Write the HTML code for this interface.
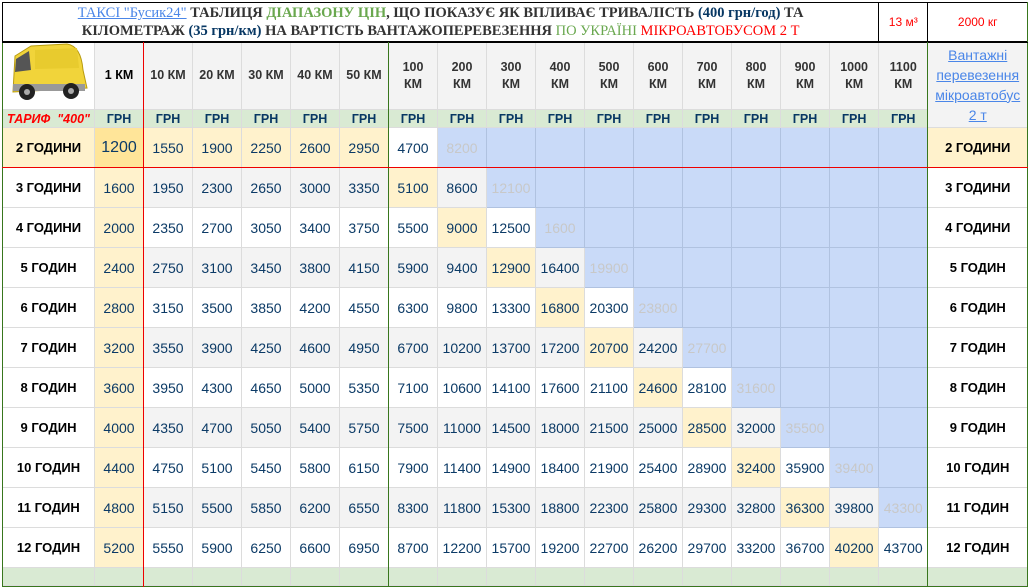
<!DOCTYPE html>
<html><head><meta charset="utf-8"><style>
body{margin:0;width:1029px;height:588px;background:#fff;overflow:hidden;font-family:"Liberation Sans",Tahoma,sans-serif;position:relative}
table{position:absolute;left:2px;top:2px;border-collapse:collapse;table-layout:fixed;width:1025px}
td{border:1px solid #dcdcdc;padding:0;text-align:center;font-size:14px;color:#0b3a66;overflow:hidden;white-space:nowrap}
tr.r td{height:39px}
.h td{background:#f3f3f3;color:#333;font-weight:bold;font-size:12.5px;height:64px;line-height:17px}
.g td{background:#d9ead3;color:#073763;font-weight:bold;font-size:12.5px;height:17px}
.f td{background:#d9ead3;height:17px}
.lb{font-weight:bold;color:#000!important;font-size:13px}
.y{background:#fff2cc}
.yy{background:#ffe599;font-size:16px}
.b{background:#c9daf8;border-color:#b0c2e0}
.fd{color:#c8c8c8}
.gr td{background:#f3f3f3}
.gr td.y{background:#fff2cc}.gr td.b{background:#c9daf8}
.w{background:#fff!important}
.t td{border:1px solid #000;height:38px;color:#333;font-weight:bold;font-family:"Liberation Serif",serif;font-size:14.5px;line-height:18px}
a{color:#4a86e8;font-weight:normal}
.vl{position:absolute;width:1px}
</style></head><body>
<table>
<colgroup><col style="width:92px"><col style="width:49px"><col style="width:49px"><col style="width:49px"><col style="width:49px"><col style="width:49px"><col style="width:49px"><col style="width:49px"><col style="width:49px"><col style="width:49px"><col style="width:49px"><col style="width:49px"><col style="width:49px"><col style="width:49px"><col style="width:49px"><col style="width:49px"><col style="width:49px"><col style="width:49px"><col style="width:100px"></colgroup>
<tr class="t"><td colspan="17"><a style="text-decoration:underline;font-weight:normal">ТАКСІ "Бусик24"</a> ТАБЛИЦЯ <span style="color:#6aa84f">ДІАПАЗОНУ ЦІН</span>, ЩО ПОКАЗУЄ ЯК ВПЛИВАЄ ТРИВАЛІСТЬ <span style="color:#073763">(400 грн/год)</span> ТА<br>КІЛОМЕТРАЖ <span style="color:#073763">(35 грн/км)</span> НА ВАРТІСТЬ ВАНТАЖОПЕРЕВЕЗЕННЯ <span style="color:#6aa84f;font-weight:normal">ПО УКРАЇНІ</span> <span style="color:#f00;font-weight:normal">МІКРОАВТОБУСОМ 2 Т</span></td><td style="color:#f00;font-weight:normal;font-family:'Liberation Sans',sans-serif;font-size:12px">13 м³</td><td style="color:#f00;font-weight:normal;font-family:'Liberation Sans',sans-serif;font-size:12px;border-right-color:#38761d">2000 кг</td></tr>
<tr class="h"><td class="w"><svg width="84" height="62" viewBox="0 0 84 62"><path d="M8 14 L24 4 L60 2 Q74 4 76 28 L80 46 L6 50 Z" fill="#f1d43a" stroke="#b89c10" stroke-width="1"/><path d="M9 17 L22 9 L24 28 L8 30 Z" fill="#555"/><path d="M28 8 L70 6 L72 26 L28 27 Z" fill="#e8cb2e"/><rect x="6" y="42" width="72" height="7" fill="#999"/><circle cx="20" cy="50" r="8" fill="#222"/><circle cx="64" cy="49" r="8" fill="#222"/><circle cx="20" cy="50" r="3" fill="#aaa"/><circle cx="64" cy="49" r="3" fill="#aaa"/></svg></td><td class="y" style="color:#000">1 КМ</td><td>10 КМ</td><td>20 КМ</td><td>30 КМ</td><td>40 КМ</td><td>50 КМ</td><td>100<br>КМ</td><td>200<br>КМ</td><td>300<br>КМ</td><td>400<br>КМ</td><td>500<br>КМ</td><td>600<br>КМ</td><td>700<br>КМ</td><td>800<br>КМ</td><td>900<br>КМ</td><td>1000<br>КМ</td><td>1100<br>КМ</td><td rowspan="2" style="line-height:20px;font-size:14px"><a style="text-decoration:underline">Вантажні<br>перевезення<br>мікроавтобус<br>2 т</a></td></tr>
<tr class="g"><td style="color:#f00;font-style:italic">ТАРИФ &nbsp;"400"</td><td>ГРН</td><td>ГРН</td><td>ГРН</td><td>ГРН</td><td>ГРН</td><td>ГРН</td><td>ГРН</td><td>ГРН</td><td>ГРН</td><td>ГРН</td><td>ГРН</td><td>ГРН</td><td>ГРН</td><td>ГРН</td><td>ГРН</td><td>ГРН</td><td>ГРН</td></tr>
<tr class="r"><td class="lb y">2 ГОДИНИ</td><td class="yy">1200</td><td class="y">1550</td><td class="y">1900</td><td class="y">2250</td><td class="y">2600</td><td class="y">2950</td><td>4700</td><td class="b fd">8200</td><td class="b"></td><td class="b"></td><td class="b"></td><td class="b"></td><td class="b"></td><td class="b"></td><td class="b"></td><td class="b"></td><td class="b"></td><td class="lb y">2 ГОДИНИ</td></tr>
<tr class="r gr"><td class="lb w">3 ГОДИНИ</td><td class="y">1600</td><td>1950</td><td>2300</td><td>2650</td><td>3000</td><td>3350</td><td class="y">5100</td><td>8600</td><td class="b fd">12100</td><td class="b"></td><td class="b"></td><td class="b"></td><td class="b"></td><td class="b"></td><td class="b"></td><td class="b"></td><td class="b"></td><td class="lb w">3 ГОДИНИ</td></tr>
<tr class="r"><td class="lb">4 ГОДИНИ</td><td class="y">2000</td><td>2350</td><td>2700</td><td>3050</td><td>3400</td><td>3750</td><td>5500</td><td class="y">9000</td><td>12500</td><td class="b fd">1600</td><td class="b"></td><td class="b"></td><td class="b"></td><td class="b"></td><td class="b"></td><td class="b"></td><td class="b"></td><td class="lb">4 ГОДИНИ</td></tr>
<tr class="r gr"><td class="lb w">5 ГОДИН</td><td class="y">2400</td><td>2750</td><td>3100</td><td>3450</td><td>3800</td><td>4150</td><td>5900</td><td>9400</td><td class="y">12900</td><td>16400</td><td class="b fd">19900</td><td class="b"></td><td class="b"></td><td class="b"></td><td class="b"></td><td class="b"></td><td class="b"></td><td class="lb w">5 ГОДИН</td></tr>
<tr class="r"><td class="lb">6 ГОДИН</td><td class="y">2800</td><td>3150</td><td>3500</td><td>3850</td><td>4200</td><td>4550</td><td>6300</td><td>9800</td><td>13300</td><td class="y">16800</td><td>20300</td><td class="b fd">23800</td><td class="b"></td><td class="b"></td><td class="b"></td><td class="b"></td><td class="b"></td><td class="lb">6 ГОДИН</td></tr>
<tr class="r gr"><td class="lb w">7 ГОДИН</td><td class="y">3200</td><td>3550</td><td>3900</td><td>4250</td><td>4600</td><td>4950</td><td>6700</td><td>10200</td><td>13700</td><td>17200</td><td class="y">20700</td><td>24200</td><td class="b fd">27700</td><td class="b"></td><td class="b"></td><td class="b"></td><td class="b"></td><td class="lb w">7 ГОДИН</td></tr>
<tr class="r"><td class="lb">8 ГОДИН</td><td class="y">3600</td><td>3950</td><td>4300</td><td>4650</td><td>5000</td><td>5350</td><td>7100</td><td>10600</td><td>14100</td><td>17600</td><td>21100</td><td class="y">24600</td><td>28100</td><td class="b fd">31600</td><td class="b"></td><td class="b"></td><td class="b"></td><td class="lb">8 ГОДИН</td></tr>
<tr class="r gr"><td class="lb w">9 ГОДИН</td><td class="y">4000</td><td>4350</td><td>4700</td><td>5050</td><td>5400</td><td>5750</td><td>7500</td><td>11000</td><td>14500</td><td>18000</td><td>21500</td><td>25000</td><td class="y">28500</td><td>32000</td><td class="b fd">35500</td><td class="b"></td><td class="b"></td><td class="lb w">9 ГОДИН</td></tr>
<tr class="r"><td class="lb">10 ГОДИН</td><td class="y">4400</td><td>4750</td><td>5100</td><td>5450</td><td>5800</td><td>6150</td><td>7900</td><td>11400</td><td>14900</td><td>18400</td><td>21900</td><td>25400</td><td>28900</td><td class="y">32400</td><td>35900</td><td class="b fd">39400</td><td class="b"></td><td class="lb">10 ГОДИН</td></tr>
<tr class="r gr"><td class="lb w">11 ГОДИН</td><td class="y">4800</td><td>5150</td><td>5500</td><td>5850</td><td>6200</td><td>6550</td><td>8300</td><td>11800</td><td>15300</td><td>18800</td><td>22300</td><td>25800</td><td>29300</td><td>32800</td><td class="y">36300</td><td>39800</td><td class="b fd">43300</td><td class="lb w">11 ГОДИН</td></tr>
<tr class="r"><td class="lb">12 ГОДИН</td><td class="y">5200</td><td>5550</td><td>5900</td><td>6250</td><td>6600</td><td>6950</td><td>8700</td><td>12200</td><td>15700</td><td>19200</td><td>22700</td><td>26200</td><td>29700</td><td>33200</td><td>36700</td><td class="y">40200</td><td>43700</td><td class="lb">12 ГОДИН</td></tr>
<tr class="f"><td></td><td></td><td></td><td></td><td></td><td></td><td></td><td></td><td></td><td></td><td></td><td></td><td></td><td></td><td></td><td></td><td></td><td></td><td></td></tr>
</table>
<div class="vl" style="left:2px;top:42px;height:545px;background:#38761d"></div>
<div class="vl" style="left:1027px;top:2px;height:585px;background:#38761d"></div>
<div style="position:absolute;left:2px;top:586px;width:1026px;height:1px;background:#38761d"></div>
<div style="position:absolute;left:2px;top:42px;width:1026px;height:1px;background:#000"></div>
<div class="vl" style="left:143px;top:42px;height:545px;background:#e00"></div>
<div class="vl" style="left:388px;top:42px;height:545px;background:#38761d"></div>
<div class="vl" style="left:927px;top:42px;height:545px;background:#38761d"></div>
<div style="position:absolute;left:2px;top:167px;width:1026px;height:1px;background:#e00"></div>
</body></html>
